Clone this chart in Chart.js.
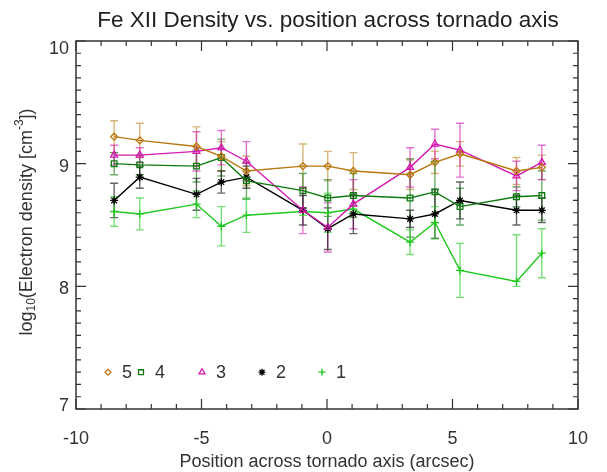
<!DOCTYPE html>
<html><head><meta charset="utf-8">
<script src="https://cdn.jsdelivr.net/npm/chart.js@4/dist/chart.umd.min.js"></script>
<style>html,body{margin:0;padding:0;background:#fff;}canvas{display:block;}</style>
</head><body>
<canvas id="c" width="607" height="472"></canvas>
<script>
// ---- data ----
const positions = [-8.48,-7.46,-5.20,-4.21,-3.21,-0.96,0.03,1.05,3.31,4.30,5.30,7.55,8.56];
const series5 = [9.22,9.19,9.14,9.06,8.94,8.98,8.98,8.94,8.91,9.01,9.08,8.94,8.97];
const err5    = [0.13,0.14,0.16,0.12,0.12,0.18,0.12,0.15,0.12,0.09,0.10,0.11,0.10];
const series4 = [9.00,8.99,8.98,9.05,8.86,8.78,8.72,8.74,8.72,8.77,8.65,8.73,8.74];
const err4    = [0.09,0.08,0.13,0.15,0.15,0.14,0.15,0.18,0.32,0.25,0.15,0.08,0.20];
const series3 = [9.07,9.07,9.10,9.13,9.02,8.62,8.48,8.67,8.97,9.16,9.11,8.90,9.01];
const err3    = [0.08,0.06,0.16,0.14,0.16,0.19,0.20,0.20,0.16,0.12,0.22,0.12,0.14];
const series2 = [8.70,8.89,8.75,8.85,8.89,8.62,8.47,8.59,8.55,8.59,8.70,8.62,8.62];
const err2    = [0.14,0.09,0.13,0.09,0.09,0.12,0.17,0.16,0.07,0.20,0.15,0.12,0.10];
const series1 = [8.61,8.59,8.67,8.49,8.58,8.61,8.60,8.63,8.36,8.52,8.13,8.04,8.27];
const err1Up  = [0.12,0.13,0.11,0.16,0.14,0.03,0.16,0.03,0.10,0.13,0.22,0.38,0.20];
const err1Dn  = [0.12,0.13,0.11,0.16,0.14,0.03,0.16,0.03,0.10,0.13,0.22,0.04,0.20];
const seriesNames = ['5','4','3','2','1'];
const xTickValues = [-10,-5,0,5,10];
const yTickValues = [7,8,9,10];
const titleText = 'Fe XII Density vs. position across tornado axis';
const xTitleText = 'Position across tornado axis (arcsec)';

const FONT = "'Liberation Sans', Arial, Helvetica, sans-serif";
const styles = [
  {color:'#b8780f', err:'rgba(184,120,15,0.55)', pointStyle:'rectRot', radius:3.5},
  {color:'#0e7a0e', err:'rgba(14,122,14,0.6)', pointStyle:'rect', radius:4},
  {color:'#d418b0', err:'rgba(212,24,176,0.6)', pointStyle:'triangle', radius:4},
  {color:'#000000', err:'rgba(0,0,0,0.6)', pointStyle:'star', radius:4},
  {color:'#1ec81e', err:'rgba(30,200,30,0.6)', pointStyle:'cross', radius:4}
];
const allSeries = [series5, series4, series3, series2, series1];
const errUp = [err5, err4, err3, err2, err1Up];
const errDn = [err5, err4, err3, err2, err1Dn];

const datasets = allSeries.map((s, i) => ({
  label: seriesNames[i],
  data: positions.map((x, j) => ({x: x, y: s[j]})),
  borderColor: styles[i].color,
  backgroundColor: 'rgba(0,0,0,0)',
  pointBorderColor: styles[i].color,
  pointBackgroundColor: 'rgba(0,0,0,0)',
  pointStyle: styles[i].pointStyle,
  pointRadius: styles[i].radius,
  pointBorderWidth: 1.3,
  borderWidth: 1.4,
  tension: 0,
  errUp: errUp[i].slice(),
  errDn: errDn[i].slice(),
  errColor: styles[i].err
}));

const errorBars = {
  id: 'errorBars',
  beforeDatasetsDraw(chart) {
    const ctx = chart.ctx, xs = chart.scales.x, ys = chart.scales.y;
    ctx.save();
    chart.data.datasets.forEach(ds => {
      ctx.strokeStyle = ds.errColor;
      ctx.lineWidth = 1.4;
      ds.data.forEach((p, j) => {
        const px = xs.getPixelForValue(p.x);
        const top = ys.getPixelForValue(p.y + ds.errUp[j]);
        const bot = ys.getPixelForValue(p.y - ds.errDn[j]);
        ctx.beginPath();
        ctx.moveTo(px, top); ctx.lineTo(px, bot);
        ctx.moveTo(px - 4, top); ctx.lineTo(px + 4, top);
        ctx.moveTo(px - 4, bot); ctx.lineTo(px + 4, bot);
        ctx.stroke();
      });
    });
    ctx.restore();
  }
};

const frame = {
  id: 'frame',
  afterDraw(chart) {
    const ctx = chart.ctx, a = chart.chartArea, xs = chart.scales.x, ys = chart.scales.y;
    ctx.save();
    ctx.strokeStyle = '#333';
    ctx.lineWidth = 1.5;
    ctx.strokeRect(a.left, a.top, a.right - a.left, a.bottom - a.top);
    ctx.lineWidth = 1.2;
    ctx.beginPath();
    for (let v = -10; v <= 10; v += 1) {
      const px = xs.getPixelForValue(v);
      const len = (v % 5 === 0) ? 10 : 5;
      ctx.moveTo(px, a.bottom); ctx.lineTo(px, a.bottom - len);
      ctx.moveTo(px, a.top); ctx.lineTo(px, a.top + len);
    }
    for (let k = 0; k <= 30; k++) {
      const v = 7 + k / 10;
      const py = ys.getPixelForValue(v);
      const len = (k % 10 === 0) ? 10 : 5;
      ctx.moveTo(a.left, py); ctx.lineTo(a.left + len, py);
      ctx.moveTo(a.right, py); ctx.lineTo(a.right - len, py);
    }
    ctx.stroke();

    // y tick labels (IDL-style: end labels nudged inward)
    ctx.fillStyle = '#333';
    ctx.font = '18px ' + FONT;
    ctx.textAlign = 'right';
    ctx.textBaseline = 'middle';
    const yLabelShift = {7: -3, 8: 3, 9: 3, 10: 8};
    yTickValues.forEach(v => {
      ctx.fillText(String(v), a.left - 7, ys.getPixelForValue(v) + yLabelShift[v]);
    });

    // title
    ctx.fillStyle = '#222';
    ctx.textAlign = 'center';
    ctx.font = '22.5px ' + FONT;
    ctx.fillText(titleText, (a.left + a.right) / 2 + 1, 21);
    // x title
    ctx.font = '18px ' + FONT;
    ctx.fillStyle = '#333';
    ctx.fillText(xTitleText, (a.left + a.right) / 2, 462);

    // y title with subscript / superscript
    ctx.save();
    ctx.translate(27, (a.top + a.bottom) / 2 - 3);
    ctx.rotate(-Math.PI / 2);
    ctx.textAlign = 'left';
    ctx.textBaseline = 'middle';
    const parts = [
      {t:'log', f:18, dy:0},
      {t:'10', f:12, dy:5},
      {t:'(Electron density [cm', f:18, dy:0},
      {t:'-3', f:12, dy:-7},
      {t:'])', f:18, dy:0}
    ];
    let total = 0;
    parts.forEach(p => { ctx.font = p.f + 'px ' + FONT; p.w = ctx.measureText(p.t).width; total += p.w; });
    let cx = -total / 2;
    parts.forEach(p => { ctx.font = p.f + 'px ' + FONT; ctx.fillText(p.t, cx, p.dy); cx += p.w; });
    ctx.restore();

    // legend
    const legendY = ys.getPixelForValue(7.3);
    const legendX = [108, 141, 202, 262, 322];
    ctx.font = '18px ' + FONT;
    ctx.textAlign = 'left';
    ctx.fillStyle = '#333';
    chart.data.datasets.forEach((ds, i) => {
      ctx.save();
      ctx.strokeStyle = styles[i].color;
      ctx.fillStyle = 'rgba(0,0,0,0)';
      ctx.lineWidth = 1.3;
      Chart.helpers.drawPoint(ctx, {pointStyle: styles[i].pointStyle, radius: styles[i].radius - 0.5, borderWidth: 1.3, rotation: 0}, legendX[i], legendY);
      ctx.restore();
      ctx.fillText(seriesNames[i], legendX[i] + 14, legendY + 1);
    });
    ctx.restore();
  }
};

new Chart(document.getElementById('c'), {
  type: 'line',
  data: { datasets: datasets },
  options: {
    responsive: false,
    animation: false,
    devicePixelRatio: 1,
    layout: { padding: { left: 0, top: 41, right: 28, bottom: 0 } },
    plugins: { legend: { display: false }, title: { display: false }, tooltip: { enabled: false } },
    scales: {
      x: {
        type: 'linear', min: -10, max: 10,
        afterBuildTicks: s => { s.ticks = xTickValues.map(v => ({value: v})); },
        afterFit: s => { s.height = 63; },
        grid: { display: false, drawTicks: false },
        border: { display: false },
        ticks: { color: '#333', font: { family: FONT, size: 18 }, padding: 19, maxRotation: 0 }
      },
      y: {
        type: 'linear', min: 7, max: 10,
        afterBuildTicks: s => { s.ticks = yTickValues.map(v => ({value: v})); },
        afterFit: s => { s.width = 76; },
        grid: { display: false, drawTicks: false },
        border: { display: false },
        ticks: { display: false }
      }
    }
  },
  plugins: [errorBars, frame]
});
</script>
</body></html>
